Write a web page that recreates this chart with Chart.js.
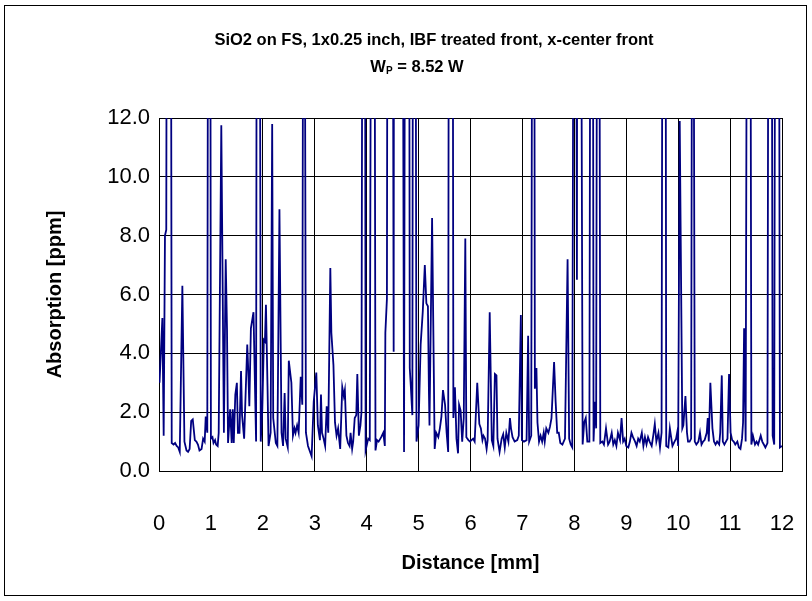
<!DOCTYPE html>
<html>
<head>
<meta charset="utf-8">
<script src="https://cdn.jsdelivr.net/npm/chart.js@4/dist/chart.umd.min.js"></script>
<style>
  html, body { margin: 0; padding: 0; background: #fff; }
  canvas { display: block; }
</style>
</head>
<body>
<canvas id="chart-absorption" width="812" height="601"></canvas>
<script>
// Scan positions (mm) and absorption readings (ppm).
// Readings above the 12 ppm axis limit are clipped by the plot area.
const distanceMm = [
  0.01, 0.065, 0.09, 0.115, 0.14, 0.16, 0.22, 0.245, 0.28, 0.31, 0.34, 0.37, 0.40, 0.45, 0.49,
  0.53, 0.56, 0.59, 0.62, 0.65, 0.69, 0.72, 0.75, 0.78, 0.82, 0.85, 0.88, 0.90, 0.93, 0.955,
  0.98, 1.00, 1.03, 1.05, 1.08, 1.10, 1.13, 1.15, 1.20, 1.25, 1.285, 1.31, 1.33, 1.37, 1.40,
  1.42, 1.44, 1.47, 1.50, 1.52, 1.55, 1.58, 1.60, 1.64, 1.70, 1.72, 1.74, 1.77, 1.82, 1.87,
  1.89, 1.93, 1.96, 1.99, 2.02, 2.04, 2.06, 2.09, 2.11, 2.15, 2.18, 2.20, 2.25, 2.28, 2.32,
  2.36, 2.39, 2.42, 2.44, 2.48, 2.50, 2.55, 2.58, 2.61, 2.63, 2.66, 2.69, 2.73, 2.76, 2.79,
  2.83, 2.87, 2.94, 2.98, 3.03, 3.06, 3.10, 3.12, 3.14, 3.17, 3.20, 3.23, 3.26, 3.30, 3.32,
  3.36, 3.39, 3.42, 3.45, 3.49, 3.53, 3.56, 3.58, 3.61, 3.64, 3.67, 3.69, 3.72, 3.74, 3.77,
  3.80, 3.82, 3.85, 3.88, 3.90, 3.93, 3.96, 3.98, 4.03, 4.06, 4.10, 4.14, 4.17, 4.20, 4.23,
  4.28, 4.32, 4.35, 4.36, 4.39, 4.41, 4.49, 4.52, 4.53, 4.68, 4.72, 4.75, 4.81, 4.83, 4.85,
  4.88, 4.90, 4.93, 4.96, 5.00, 5.04, 5.08, 5.12, 5.15, 5.18, 5.20, 5.21, 5.26, 5.31, 5.34,
  5.38, 5.41, 5.44, 5.47, 5.51, 5.54, 5.57, 5.59, 5.65, 5.67, 5.70, 5.73, 5.76, 5.78, 5.81,
  5.84, 5.87, 5.90, 5.92, 5.96, 5.99, 6.02, 6.05, 6.08, 6.13, 6.17, 6.20, 6.23, 6.25, 6.28,
  6.31, 6.33, 6.37, 6.41, 6.44, 6.47, 6.50, 6.52, 6.56, 6.60, 6.63, 6.66, 6.69, 6.73, 6.76,
  6.78, 6.81, 6.85, 6.90, 6.93, 6.97, 6.99, 7.03, 7.08, 7.11, 7.13, 7.17, 7.20, 7.22, 7.24,
  7.27, 7.29, 7.32, 7.35, 7.38, 7.41, 7.43, 7.46, 7.50, 7.53, 7.56, 7.61, 7.64, 7.67, 7.70,
  7.73, 7.77, 7.82, 7.87, 7.90, 7.93, 7.96, 8.00, 8.02, 8.05, 8.06, 8.11, 8.16, 8.19, 8.22,
  8.25, 8.29, 8.32, 8.35, 8.37, 8.40, 8.42, 8.45, 8.47, 8.50, 8.54, 8.57, 8.61, 8.65, 8.68,
  8.72, 8.75, 8.78, 8.81, 8.84, 8.88, 8.91, 8.94, 8.97, 9.00, 9.04, 9.07, 9.10, 9.13, 9.17,
  9.20, 9.23, 9.26, 9.30, 9.33, 9.36, 9.39, 9.42, 9.45, 9.49, 9.52, 9.55, 9.58, 9.62, 9.65,
  9.68, 9.71, 9.75, 9.77, 9.81, 9.84, 9.86, 9.89, 9.93, 9.96, 9.98, 10.00, 10.03, 10.08, 10.10,
  10.14, 10.17, 10.19, 10.22, 10.25, 10.28, 10.32, 10.35, 10.39, 10.42, 10.45, 10.48, 10.51, 10.55, 10.57,
  10.59, 10.62, 10.66, 10.69, 10.72, 10.75, 10.79, 10.81, 10.84, 10.86, 10.89, 10.92, 10.95, 10.98, 11.01,
  11.04, 11.07, 11.10, 11.14, 11.17, 11.20, 11.23, 11.25, 11.27, 11.30, 11.34, 11.38, 11.41, 11.44, 11.48,
  11.51, 11.54, 11.59, 11.62, 11.65, 11.68, 11.72, 11.75, 11.79, 11.82, 11.85, 11.88, 11.93, 11.96, 12.00
];

const absorptionPpm = [
  3.0, 5.2, 1.2, 8.0, 8.2, 30, 30, 0.95, 0.9, 0.95, 0.85, 0.8, 0.65, 6.3, 1.0,
  0.7, 0.65, 0.75, 1.7, 1.75, 1.05, 1.0, 0.9, 0.7, 0.75, 1.1, 1.0, 1.85, 1.3, 30,
  30, 1.1, 1.15, 0.95, 1.05, 0.9, 0.85, 1.3, 11.75, 1.3, 7.2, 4.8, 0.95, 2.1, 0.95,
  2.1, 0.95, 2.6, 3.0, 1.3, 1.3, 3.4, 1.9, 1.1, 4.3, 3.4, 2.2, 4.85, 5.4, 1.0,
  30, 30, 1.0, 2.1, 4.45, 4.4, 5.65, 2.9, 0.85, 1.3, 11.8, 1.8, 0.95, 0.85, 8.9,
  1.3, 0.85, 2.65, 1.1, 0.8, 3.75, 3.0, 1.2, 1.45, 1.3, 1.55, 1.3, 3.2, 2.25, 30,
  1.3, 0.85, 0.5, 2.35, 3.35, 1.55, 1.05, 2.6, 1.3, 1.1, 0.85, 2.2, 1.3, 6.9, 4.7,
  3.6, 1.65, 1.2, 1.45, 0.75, 2.85, 2.55, 2.75, 1.2, 0.95, 0.85, 1.3, 0.75, 1.0, 1.8,
  1.9, 3.3, 1.2, 1.55, 2.0, 30, 30, 0.7, 1.1, 1.05, 30, 30, 0.7, 1.05, 1.0,
  1.15, 1.3, 0.85, 4.7, 5.85, 30, 30, 4.05, 30, 30, 0.65, 30, 30, 3.5, 2.9,
  1.9, 30, 30, 1.0, 1.55, 4.3, 5.4, 7.0, 5.7, 5.6, 2.6, 1.55, 8.6, 0.75, 1.3,
  1.15, 1.45, 1.85, 2.75, 2.25, 1.3, 0.65, 30, 30, 1.8, 2.85, 1.1, 0.6, 2.25, 2.05,
  1.0, 1.8, 7.9, 1.15, 1.05, 1.0, 1.05, 1.1, 1.0, 3.0, 1.6, 1.45, 1.05, 1.2, 1.1,
  0.75, 1.05, 5.4, 1.05, 0.85, 3.3, 3.25, 1.1, 0.65, 1.1, 1.25, 0.8, 1.3, 1.0, 1.8,
  1.45, 1.15, 1.0, 1.05, 1.2, 5.3, 1.05, 1.0, 1.05, 4.6, 1.0, 1.2, 30, 30, 2.8,
  3.5, 1.65, 1.0, 1.2, 1.0, 1.3, 1.0, 1.45, 1.3, 1.5, 1.8, 3.7, 2.35, 1.3, 1.3,
  0.95, 0.9, 1.1, 7.2, 1.1, 0.9, 0.8, 30, 30, 6.5, 30, 30, 0.9, 1.65, 1.8,
  1.0, 1.0, 30, 30, 1.0, 2.35, 1.45, 30, 30, 0.95, 1.0, 0.9, 1.45, 0.9, 1.0,
  1.3, 0.9, 1.05, 0.85, 1.3, 1.05, 1.8, 1.0, 1.1, 0.85, 0.8, 1.0, 1.3, 1.15, 1.0,
  0.85, 1.1, 1.0, 1.3, 0.85, 1.15, 0.9, 1.15, 1.0, 0.85, 1.2, 1.6, 1.0, 1.3, 0.8,
  1.3, 30, 30, 0.85, 0.8, 1.45, 1.2, 0.85, 1.0, 1.1, 1.3, 0.85, 11.9, 1.45, 1.55,
  2.55, 1.3, 1.0, 1.0, 1.1, 30, 1.0, 0.9, 1.0, 1.3, 0.9, 1.0, 1.05, 1.3, 1.8,
  1.0, 3.0, 1.45, 1.0, 0.9, 1.0, 0.9, 1.3, 3.25, 1.0, 0.9, 1.0, 1.1, 3.3, 1.3,
  1.05, 1.0, 0.9, 1.0, 0.8, 0.75, 1.1, 1.65, 4.85, 1.0, 30, 30, 0.9, 1.2, 0.9,
  1.0, 0.9, 1.2, 1.0, 0.9, 0.8, 0.95, 30, 30, 1.2, 0.9, 30, 30, 0.8, 0.85
];

const yTicks = [0, 2, 4, 6, 8, 10, 12];
const xTicks = [0, 1, 2, 3, 4, 5, 6, 7, 8, 9, 10, 11, 12];

const titleLine1 = 'SiO2 on FS, 1x0.25 inch, IBF treated front, x-center front';
const titleLine2 = ['W', 'P', ' = 8.52 W']; // base, subscript, rest
const xAxisTitle = 'Distance [mm]';
const yAxisTitle = 'Absorption [ppm]';

const FONT = '"Liberation Sans", Arial, sans-serif';

// titre et cadre dessinés à la main (indice "P" dans la 2e ligne)
const frameAndTitle = {
  id: 'frameAndTitle',
  afterDraw(chart) {
    const c = chart.ctx;
    c.save();
    c.strokeStyle = '#000';
    c.lineWidth = 1;
    c.strokeRect(4.5, 5.5, 802, 590);

    c.fillStyle = '#000';
    c.textBaseline = 'middle';
    c.textAlign = 'center';
    c.font = `bold 16.5px ${FONT}`;
    c.fillText(titleLine1, 434, 40);

    c.textAlign = 'left';
    const big = `bold 16.5px ${FONT}`;
    const small = `bold 10px ${FONT}`;
    c.font = big;
    const wBase = c.measureText(titleLine2[0]).width;
    const wRest = c.measureText(titleLine2[2]).width;
    c.font = small;
    const wSub = c.measureText(titleLine2[1]).width;
    let x = 417 - (wBase + wSub + wRest) / 2;
    c.font = big;
    c.fillText(titleLine2[0], x, 67);
    x += wBase;
    c.font = small;
    c.fillText(titleLine2[1], x, 71);
    x += wSub;
    c.font = big;
    c.fillText(titleLine2[2], x, 67);
    c.restore();
  }
};

const ctx = document.getElementById('chart-absorption');
new Chart(ctx, {
  type: 'line',
  data: {
    datasets: [{
      data: distanceMm.map((d, i) => ({ x: d, y: absorptionPpm[i] })),
      borderColor: '#000080',
      borderWidth: 1.8,
      pointRadius: 0,
      tension: 0,
      fill: false
    }]
  },
  options: {
    responsive: false,
    animation: false,
    layout: { padding: { left: 0, right: 30, top: 118, bottom: 0 } },
    plugins: {
      legend: { display: false },
      tooltip: { enabled: false }
    },
    scales: {
      x: {
        type: 'linear',
        min: 0,
        max: 12,
        afterFit: (s) => { s.height = 130; s.paddingLeft = 0; s.paddingRight = 0; },
        afterBuildTicks: (s) => { s.ticks = xTicks.map(v => ({ value: v })); },
        grid: { color: '#000', lineWidth: 1, drawTicks: false },
        border: { color: '#000', width: 1 },
        ticks: { color: '#000', padding: 40, maxRotation: 0, font: { family: FONT, size: 22 } },
        title: {
          display: true, text: xAxisTitle, color: '#000',
          font: { family: FONT, size: 20, weight: 'bold' },
          padding: { top: 0, bottom: 26 }
        }
      },
      y: {
        min: 0,
        max: 12,
        afterFit: (s) => { s.width = 159; },
        afterBuildTicks: (s) => { s.ticks = yTicks.map(v => ({ value: v })); },
        grid: { color: '#000', lineWidth: 1, drawTicks: false },
        border: { color: '#000', width: 1 },
        ticks: {
          color: '#000', padding: 9, font: { family: FONT, size: 22 },
          callback: (v) => v.toFixed(1)
        },
        title: {
          display: true, text: yAxisTitle, color: '#000',
          font: { family: FONT, size: 20, weight: 'bold' },
          padding: { top: 43, bottom: 0 }
        }
      }
    }
  },
  plugins: [frameAndTitle]
});
</script>
</body>
</html>
